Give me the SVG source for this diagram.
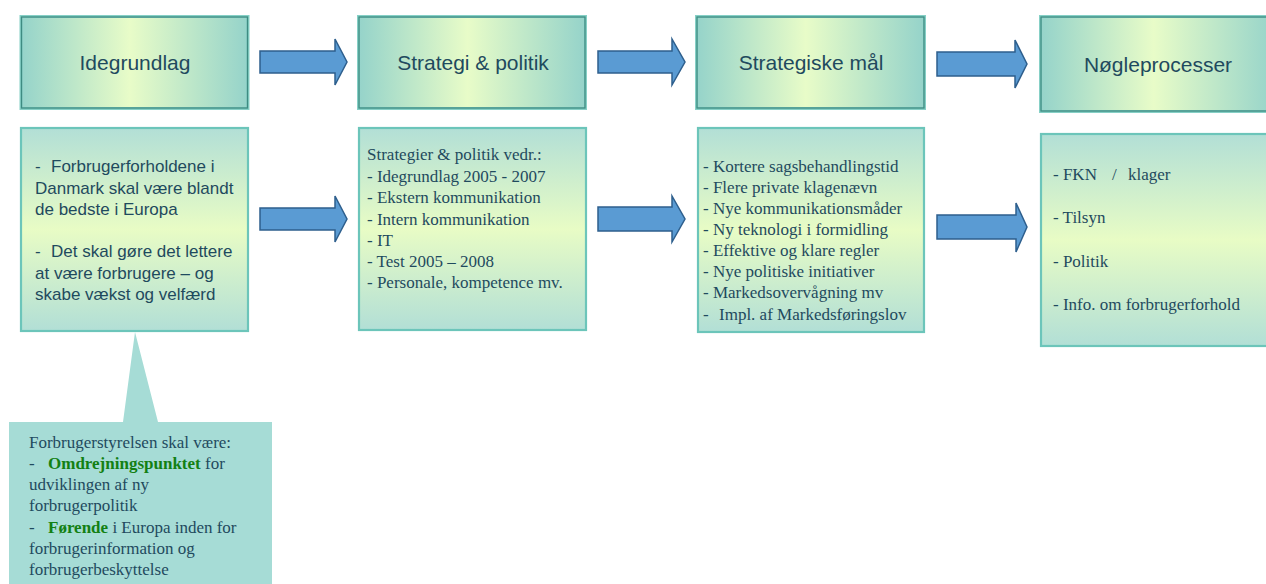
<svg xmlns="http://www.w3.org/2000/svg" width="1266" height="584" viewBox="0 0 1266 584">
<defs>
<linearGradient id="hg" x1="0" y1="0" x2="1" y2="0">
<stop offset="0" stop-color="#95d3ca"/>
<stop offset="0.48" stop-color="#e8fcc8"/>
<stop offset="1" stop-color="#95d3ca"/>
</linearGradient>
<linearGradient id="bg" x1="0" y1="0" x2="0" y2="1">
<stop offset="0" stop-color="#b2dfd6"/>
<stop offset="0.5" stop-color="#e8fcc5"/>
<stop offset="1" stop-color="#b2dfd6"/>
</linearGradient>
<style>
.hout{fill:url(#hg);stroke:#86d0c6;stroke-width:3}
.hin{fill:none;stroke:#3e8b82;stroke-width:1.3}
.body{fill:url(#bg);stroke:#6cc5ba;stroke-width:2.2}
.ht{font-family:"Liberation Sans",Arial,sans-serif;font-size:21px;fill:#1f4a5e;text-anchor:middle}
.at{font-family:"Liberation Sans",Arial,sans-serif;font-size:17px;fill:#1f4a5e}
.tt{font-family:"Liberation Serif","Times New Roman",serif;font-size:17px;fill:#1f4a5e}
.g{font-weight:bold;fill:#138013}
.arr{fill:#5a9bd3;stroke:#2e5f8d;stroke-width:1.5;stroke-linejoin:miter}
</style>
</defs>
<rect width="1266" height="584" fill="#ffffff"/>

<g id="connectors">
<path class="arr" d="M260,51 H335 V39 L347,62 L335,85 V73 H260 Z"/>
<path class="arr" d="M598,51 H672 V39 L685,62 L672,85 V73 H598 Z"/>
<path class="arr" d="M937,52 H1015 V40 L1027,64 L1015,88 V76 H937 Z"/>
<path class="arr" d="M260,208 H335 V196 L347,219 L335,242 V230 H260 Z"/>
<path class="arr" d="M598,207 H672 V196 L685,219 L672,242 V231 H598 Z"/>
<path class="arr" d="M937,215 H1016 V203 L1027,227 L1016,252 V239 H937 Z"/>
</g>

<g id="h1">
<rect class="hout" x="21" y="16.5" width="227" height="92"/>
<rect class="hin" x="21.5" y="17" width="226" height="91"/>
<text class="ht" x="135" y="70">Idegrundlag</text>
</g>
<g id="h2">
<rect class="hout" x="358.5" y="16.5" width="227" height="92"/>
<rect class="hin" x="359" y="17" width="226" height="91"/>
<text class="ht" x="473" y="70">Strategi &amp; politik</text>
</g>
<g id="h3">
<rect class="hout" x="696.5" y="16.5" width="228" height="92"/>
<rect class="hin" x="697" y="17" width="227" height="91"/>
<text class="ht" x="811" y="70">Strategiske mål</text>
</g>
<g id="h4">
<rect class="hout" x="1040.5" y="16.5" width="236" height="95"/>
<rect class="hin" x="1041" y="17" width="235" height="94"/>
<text class="ht" x="1158" y="72">Nøgleprocesser</text>
</g>

<g id="b1">
<rect class="body" x="21" y="128" width="227" height="203"/>
<text class="at"><tspan x="35" y="172">-</tspan><tspan x="51" y="172">Forbrugerforholdene i</tspan><tspan x="35" y="194">Danmark skal være blandt</tspan><tspan x="35" y="215">de bedste i Europa</tspan><tspan x="35" y="257">-</tspan><tspan x="51" y="257">Det skal gøre det lettere</tspan><tspan x="35" y="279">at være forbrugere – og</tspan><tspan x="35" y="300">skabe vækst og velfærd</tspan></text>
</g>
<g id="b2">
<rect class="body" x="359" y="128" width="227" height="202"/>
<text class="tt"><tspan x="367" y="160">Strategier &amp; politik vedr.:</tspan><tspan x="367" y="181.5">- Idegrundlag 2005 - 2007</tspan><tspan x="367" y="203">- Ekstern kommunikation</tspan><tspan x="367" y="224.5">- Intern kommunikation</tspan><tspan x="367" y="246">- IT</tspan><tspan x="367" y="267">- Test 2005 – 2008</tspan><tspan x="367" y="288">- Personale, kompetence mv.</tspan></text>
</g>
<g id="b3">
<rect class="body" x="698" y="128" width="226" height="204"/>
<text class="tt"><tspan x="703" y="172">- Kortere sagsbehandlingstid</tspan><tspan x="703" y="193">- Flere private klagenævn</tspan><tspan x="703" y="214">- Nye kommunikationsmåder</tspan><tspan x="703" y="235">- Ny teknologi i formidling</tspan><tspan x="703" y="256">- Effektive og klare regler</tspan><tspan x="703" y="277">- Nye politiske initiativer</tspan><tspan x="703" y="298">- Markedsovervågning mv</tspan><tspan x="703" y="319.5">-</tspan><tspan x="719" y="319.5">Impl. af Markedsføringslov</tspan></text>
</g>
<g id="b4">
<rect class="body" x="1041" y="134" width="236" height="212"/>
<text class="tt"><tspan x="1053" y="180">- FKN</tspan><tspan x="1112" y="180">/</tspan><tspan x="1128" y="180">klager</tspan><tspan x="1053" y="223">- Tilsyn</tspan><tspan x="1053" y="267">- Politik</tspan><tspan x="1053" y="310">- Info. om forbrugerforhold</tspan></text>
</g>

<g id="callout">
<path d="M9,422 H123 L135,332 L158,422 H272 V590 H9 Z" fill="#a6dcd6"/>
<text class="tt"><tspan x="29" y="448">Forbrugerstyrelsen skal være:</tspan><tspan x="29" y="469">-</tspan><tspan x="48" y="469" class="g">Omdrejningspunktet</tspan><tspan> for</tspan><tspan x="29" y="490">udviklingen af ny</tspan><tspan x="29" y="511">forbrugerpolitik</tspan><tspan x="29" y="533">-</tspan><tspan x="48" y="533" class="g">Førende</tspan><tspan> i Europa inden for</tspan><tspan x="29" y="554">forbrugerinformation og</tspan><tspan x="29" y="575">forbrugerbeskyttelse</tspan></text>
</g>
</svg>
